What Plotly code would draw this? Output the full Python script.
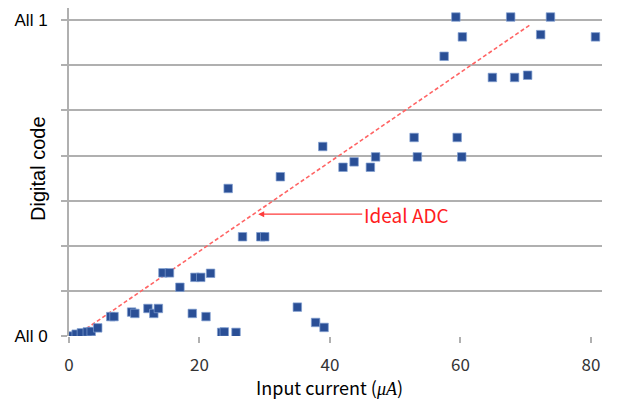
import plotly.graph_objects as go

# measured data (input current in uA, digital code level 0..7)
current = [0.2, 1.1, 1.9, 2.8, 3.4, 4.4, 6.4, 6.9, 9.6, 10.1, 12.1, 13.0, 13.7,
           14.4, 15.4, 17.0, 19.3, 20.2, 21.7, 18.9, 21.0, 23.4, 23.8, 25.6,
           24.4, 26.6, 29.4, 30.0, 32.4, 35.0, 37.8, 39.1, 38.9, 42.0, 43.7,
           46.2, 47.0, 52.9, 53.4, 59.5, 60.2, 57.5, 59.3, 60.3, 64.9, 68.3,
           70.3, 67.7, 72.3, 73.8, 80.7]
code = [0.0, 0.04, 0.07, 0.09, 0.10, 0.18, 0.43, 0.43, 0.53, 0.50, 0.61, 0.50, 0.61,
        1.40, 1.40, 1.08, 1.30, 1.30, 1.39, 0.50, 0.43, 0.08, 0.09, 0.08,
        3.27, 2.20, 2.20, 2.20, 3.53, 0.64, 0.30, 0.19, 4.20, 3.74, 3.86,
        3.74, 3.97, 4.40, 3.97, 4.40, 3.97, 6.20, 7.07, 6.63, 5.73, 5.73,
        5.78, 7.07, 6.68, 7.07, 6.63]

ideal_x = [1.0, 70.7]
ideal_y = [0.0, 6.9]

x_ticks = [0, 20, 40, 60, 80]
y_ticks = [0, 1, 2, 3, 4, 5, 6, 7]
y_ticktext = ["All 0", "", "", "", "", "", "", "All 1"]

arrow_x, arrow_y = 29.0, 2.70

fig = go.Figure()
fig.add_trace(go.Scatter(
    x=ideal_x, y=ideal_y, mode="lines",
    line=dict(color="#FF6464", width=1.6, dash="4px,2.5px"),
    hoverinfo="skip", showlegend=False))
fig.add_trace(go.Scatter(
    x=current, y=code, mode="markers",
    marker=dict(symbol="square", size=8.5, color="#2A4F96",
                line=dict(color="rgba(130,160,210,0.7)", width=1)),
    showlegend=False))

gray = "#b0b0b0"
fig.update_layout(
    width=610, height=395,
    margin=dict(l=61, r=16, t=0, b=67),
    paper_bgcolor="white", plot_bgcolor="white",
    font=dict(family="Liberation Sans, Arial, sans-serif", size=16, color="#000"),
    xaxis=dict(range=[0, 81.7], tickvals=x_ticks, showgrid=False,
               zeroline=False, showline=False,
               ticks="outside", ticklen=6, tickwidth=1.5, tickcolor=gray,
               ticklabelstandoff=8,
               tickfont=dict(family="Noto Sans CJK KR, Noto Sans, sans-serif",
                             size=17, color="#333")),
    yaxis=dict(range=[0, 7.27], tickvals=y_ticks, ticktext=y_ticktext,
               showgrid=True, gridcolor=gray, gridwidth=2,
               zeroline=False, showline=True, linecolor=gray, linewidth=2,
               ticks="outside", ticklen=6, tickwidth=2, tickcolor=gray,
               ticklabelstandoff=10,
               tickfont=dict(family="Liberation Sans, Arial, sans-serif",
                             size=17, color="#000")),
    annotations=[
        dict(x=arrow_x, y=arrow_y, xref="x", yref="y",
             text="Ideal ADC", showarrow=True, ax=148, ay=0,
             arrowhead=2, arrowsize=1, arrowwidth=1.2, arrowcolor="#FF3B3B",
             font=dict(family="Noto Sans CJK KR, Noto Sans, sans-serif",
                       size=19, color="#FF2020")),
        dict(x=0, y=0.5, xref="paper", yref="paper",
             text="Digital code", showarrow=False, textangle=-90,
             xanchor="center", yanchor="middle", xshift=-31, yshift=3,
             font=dict(family="Liberation Sans, Arial, sans-serif", size=20,
                       color="#000")),
        dict(x=0.5, y=0, xref="paper", yref="paper",
             text="Input current (<i><span style='font-family:Liberation Serif'>μA</span></i>)",
             showarrow=False, xanchor="center", yanchor="middle",
             xshift=-6, yshift=-51,
             font=dict(family="Noto Sans CJK KR, Noto Sans, sans-serif", size=18,
                       color="#000")),
    ],
)

fig.write_html("out.html")
